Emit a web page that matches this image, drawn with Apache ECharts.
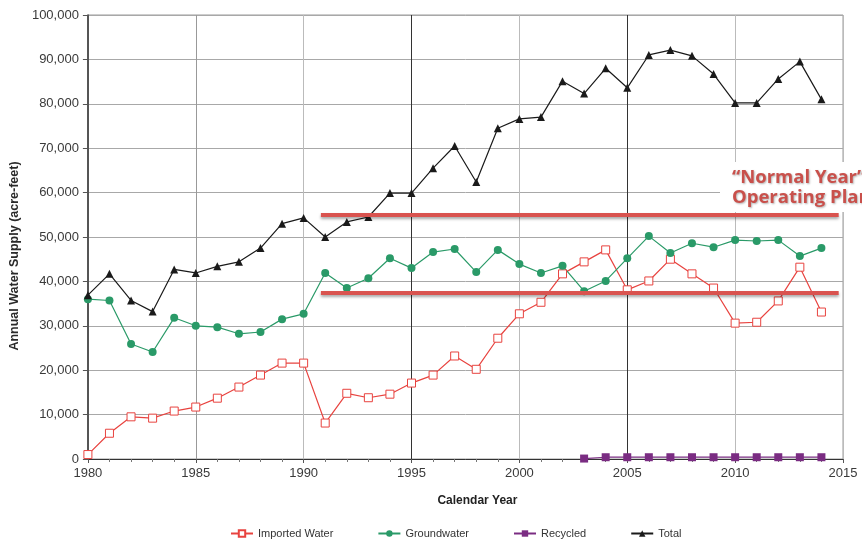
<!DOCTYPE html>
<html>
<head>
<meta charset="utf-8">
<script src="https://cdn.jsdelivr.net/npm/echarts@6/dist/echarts.min.js"></script>
<style>
html,body{margin:0;padding:0;background:#fff;}
#chart{width:862px;height:542px;}
</style>
</head>
<body>
<div id="chart"></div>
<script>
const years = [1980,1981,1982,1983,1984,1985,1986,1987,1988,1989,1990,1991,1992,1993,1994,1995,1996,1997,1998,1999,2000,2001,2002,2003,2004,2005,2006,2007,2008,2009,2010,2011,2012,2013,2014];
const imported = [1000,5800,9500,9200,10800,11700,13700,16200,18900,21600,21600,8100,14800,13800,14600,17100,18900,23200,20200,27200,32700,35300,41700,44400,47100,38100,40100,45000,41700,38500,30600,30800,35600,43200,33100];
const groundwater = [36000,35700,25900,24100,31800,30000,29700,28200,28600,31500,32700,41900,38500,40700,45200,43000,46600,47300,42100,47100,43900,41900,43500,37800,40100,45200,50200,46400,48600,47700,49300,49100,49300,45700,47500];
const recycledYears = [2003,2004,2005,2006,2007,2008,2009,2010,2011,2012,2013,2014];
const recycled = [100,400,400,400,400,400,400,400,400,400,400,400];
const total = [36900,41700,35700,33200,42700,41900,43400,44400,47500,53000,54300,50000,53400,54500,59900,59900,65500,70500,62400,74500,76600,77000,85100,82300,88000,83600,91000,92100,90800,86700,80200,80200,85600,89500,81000];
const planLevels = [55000, 37500];
const planFrom = 1990.8, planTo = 2014.8;
const seriesNames = ['Imported Water','Groundwater','Recycled','Total'];
const annotation = ['\u201cNormal Year\u201d','Operating Plan'];

const pairs = (xs, ys) => xs.map((x, i) => [x, ys[i]]);

const chart = echarts.init(document.getElementById('chart'));
chart.setOption({
  animation: false,
  textStyle: { fontFamily: 'Liberation Sans, Arial, sans-serif' },
  grid: { left: 87, right: 19, top: 15, bottom: 83, show: true, borderColor: '#9a9a9a', borderWidth: 1 },
  xAxis: {
    type: 'value', min: 1980, max: 2015, interval: 5,
    name: 'Calendar Year', nameLocation: 'middle', nameGap: 36,
    nameTextStyle: { fontWeight: 'bold', fontSize: 12, color: '#222', padding: [0,0,0,24] },
    axisLine: { lineStyle: { color: '#333' } },
    axisTick: { show: true, length: 4, lineStyle: { color: '#555' } },
    minorTick: { show: true, splitNumber: 5, length: 3, lineStyle: { color: '#777' } },
    axisLabel: { formatter: v => String(v), fontSize: 13, color: '#3a3a3a', margin: 8 },
    splitLine: { show: true, lineStyle: { color: ['#bbb','#999','#bbb','#333','#bbb','#333','#bbb','#bbb'] } }
  },
  yAxis: {
    type: 'value', min: 0, max: 100000, interval: 10000,
    name: 'Annual Water Supply (acre-feet)', nameLocation: 'middle', nameGap: 60,
    nameTextStyle: { fontSize: 12.5, fontWeight: 'bold', color: '#2a2a2a', padding: [0, 38, 0, 0] },
    axisLine: { show: true, lineStyle: { color: '#333', width: 1.5 } },
    axisTick: { show: true, length: 5, lineStyle: { color: '#555' } },
    axisLabel: { fontSize: 13, color: '#3a3a3a', margin: 9 },
    splitLine: { show: true, lineStyle: { color: '#a8a8a8' } }
  },
  legend: {
    left: 225, top: 523, itemGap: 44, itemWidth: 22, itemHeight: 8,
    textStyle: { fontSize: 11, color: '#333' },
    data: seriesNames
  },
  series: [
    { name: seriesNames[0], type: 'line', data: pairs(years, imported),
      symbol: 'rect', symbolSize: 8,
      lineStyle: { color: '#e8433f', width: 1.2 },
      itemStyle: { color: '#fff', borderColor: '#e8433f', borderWidth: 1 } },
    { name: seriesNames[1], type: 'line', data: pairs(years, groundwater),
      symbol: 'circle', symbolSize: 8,
      lineStyle: { color: '#2a9a68', width: 1.2 },
      itemStyle: { color: '#2a9a68' } },
    { name: seriesNames[2], type: 'line', data: pairs(recycledYears, recycled),
      symbol: 'rect', symbolSize: 8,
      lineStyle: { color: '#7a2c82', width: 1.2 },
      itemStyle: { color: '#7a2c82' } },
    { name: seriesNames[3], type: 'line', data: pairs(years, total),
      symbol: 'triangle', symbolSize: 8,
      lineStyle: { color: '#1a1a1a', width: 1.2 },
      itemStyle: { color: '#1a1a1a' },
      markLine: {
        silent: true, symbol: 'none', z: 10,
        label: { show: false },
        lineStyle: { type: 'solid', color: '#d9534f', width: 4, shadowBlur: 3, shadowColor: 'rgba(0,0,0,0.35)', shadowOffsetY: 2 },
        data: planLevels.map(v => [{ coord: [planFrom, v] }, { coord: [planTo, v] }])
      } }
  ],
  graphic: [
    { type: 'rect', left: 720, top: 162, z: 100, shape: { width: 142, height: 50 }, style: { fill: '#fff' } },
    { type: 'text', left: 732, top: 168, z: 101,
      style: { text: annotation.join('\n'), font: 'bold 18.5px "Open Sans", sans-serif', lineHeight: 20, fill: '#c9504b',
               textShadowColor: 'rgba(0,0,0,0.3)', textShadowBlur: 2, textShadowOffsetX: 1, textShadowOffsetY: 1 } }
  ]
});
</script>
</body>
</html>
